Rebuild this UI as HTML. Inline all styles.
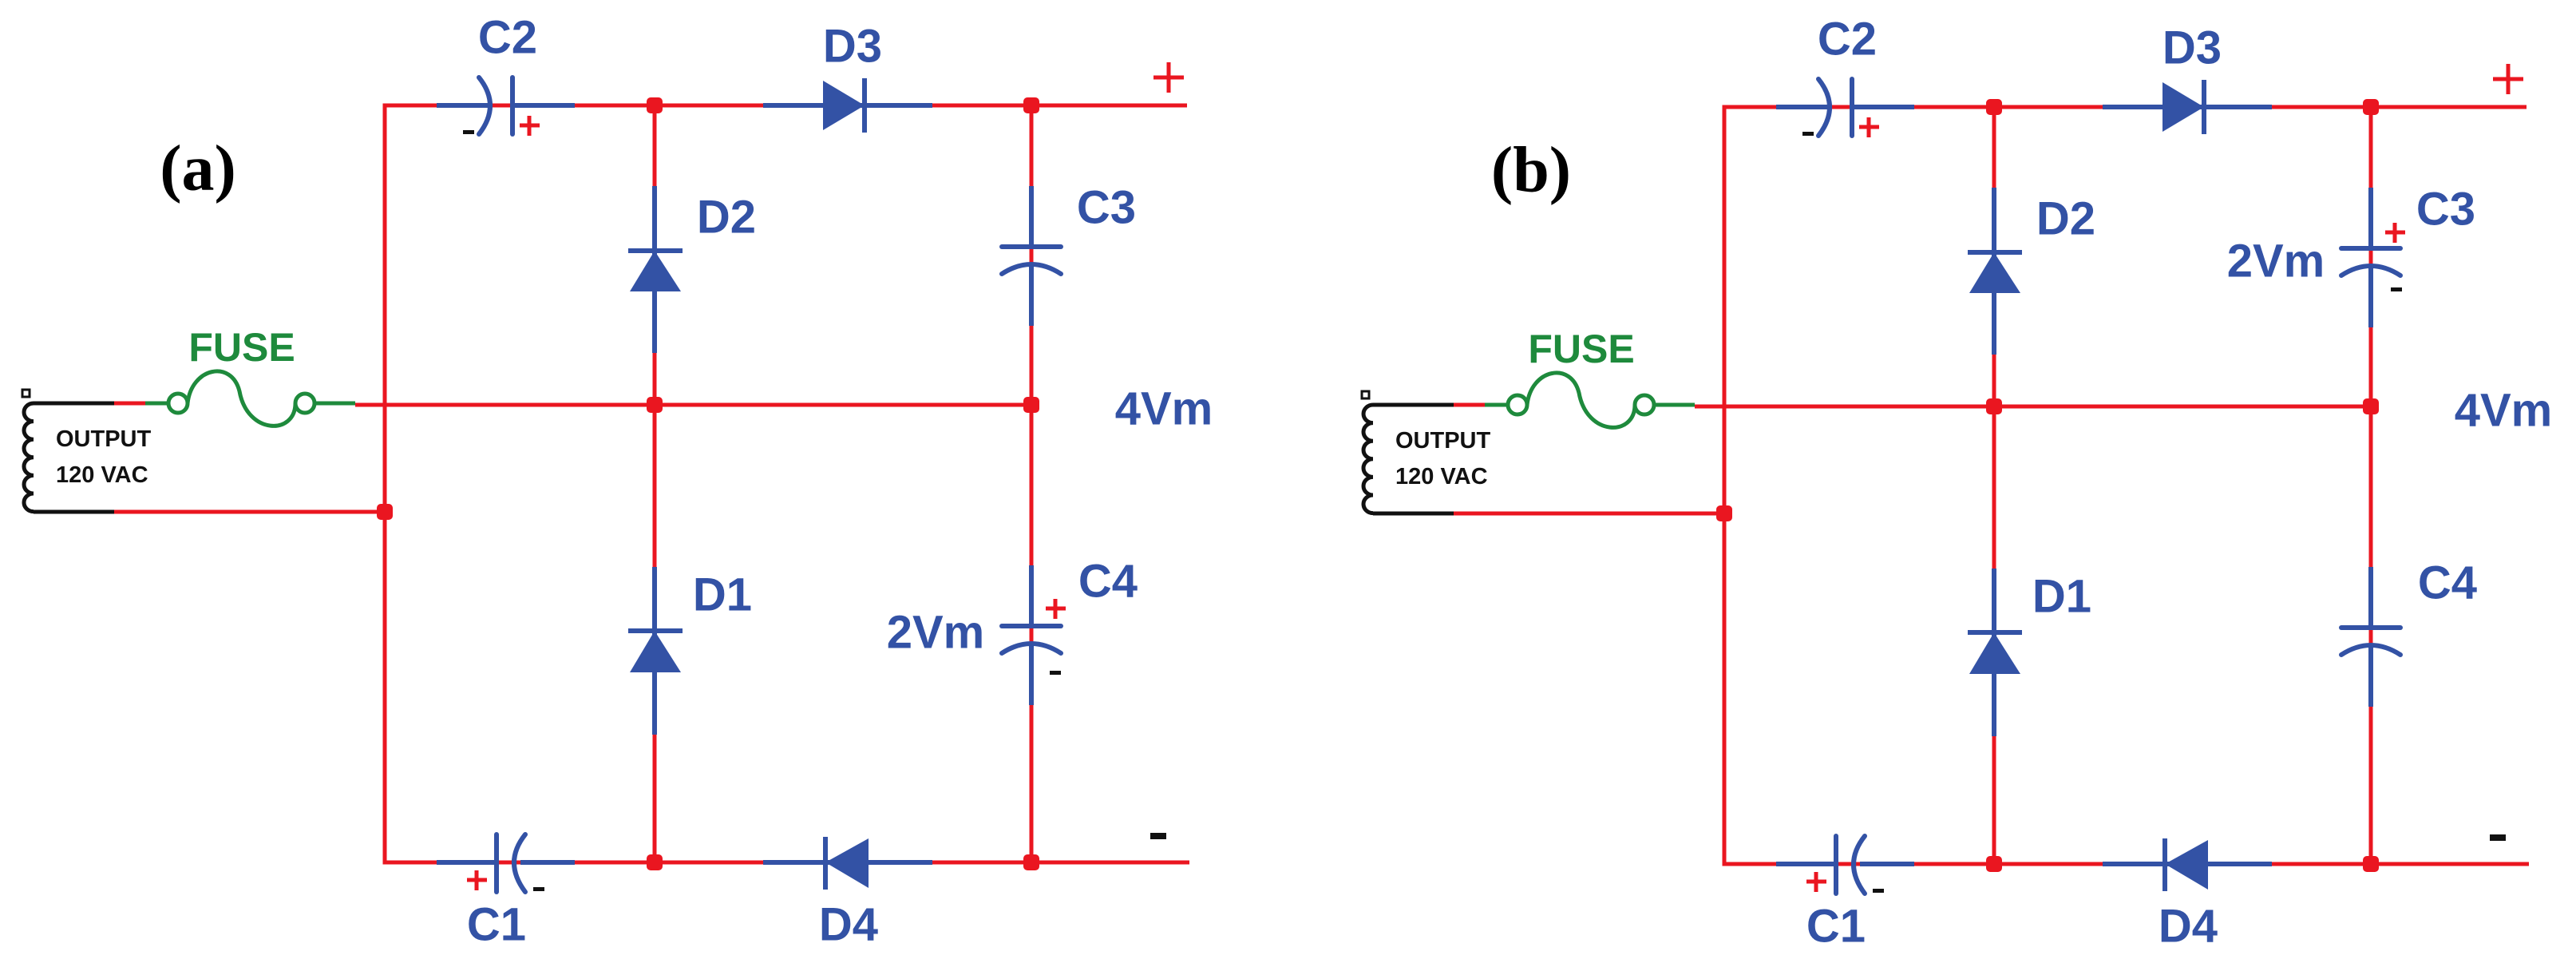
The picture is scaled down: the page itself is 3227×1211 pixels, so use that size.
<!DOCTYPE html>
<html><head><meta charset="utf-8"><style>
html,body{margin:0;padding:0;background:#fff;}
svg{display:block}
.l{font-family:"Liberation Sans",sans-serif;font-weight:bold;fill:#3352a5;font-size:58px;text-anchor:middle;dominant-baseline:central}
.p{font-family:"Liberation Serif",serif;font-weight:bold;fill:#000;font-size:82px;text-anchor:middle;dominant-baseline:central}
.r{stroke:#ea1620;stroke-width:5;fill:none}
.b{stroke:#3352a5;stroke-width:6;fill:none}
.bf{fill:#3352a5}
.g{stroke:#1e8a3c;stroke-width:5;fill:none}
.k{stroke:#111;stroke-width:5;fill:none}
</style></head><body>
<svg width="3227" height="1211" viewBox="0 0 3227 1211" xmlns="http://www.w3.org/2000/svg">
<defs>
<g id="base">
  <!-- red wiring -->
  <path class="r" d="M1487 132 H482 V1080 H1490"/>
  <path class="r" d="M445 507 H1292"/>
  <path class="r" d="M143 641 H482"/>
  <path class="r" d="M143 505 H182"/>
  <path class="r" d="M820 132 V1080"/>
  <path class="r" d="M1292 132 V1080"/>
  <!-- C2 -->
  <path class="b" d="M547 132 H612 M642 132 H720"/>
  <path class="b" d="M600 97 Q628 132 600 168" stroke-width="8" stroke-linecap="round"/>
  <path class="b" d="M642 97 V168" stroke-width="8" stroke-linecap="round"/>
  <rect x="580" y="163" width="14" height="5" fill="#111"/>
  <path class="r" d="M651 157 H676 M663 145 V170" stroke-width="5"/>
  <!-- D3 -->
  <path class="b" d="M956 132 H1168"/>
  <polygon class="bf" points="1031,101 1083,132 1031,163"/>
  <path class="b" d="M1083 98 V166"/>
  <!-- C1 -->
  <path class="b" d="M547 1080 H622 M652 1080 H720"/>
  <path class="b" d="M622 1045 V1117" stroke-width="8" stroke-linecap="round"/>
  <path class="b" d="M658 1045 Q630 1080 658 1117" stroke-width="8" stroke-linecap="round"/>
  <path class="r" d="M585 1102 H610 M597 1090 V1115"/>
  <rect x="668" y="1111" width="14" height="5" fill="#111"/>
  <!-- D4 -->
  <path class="b" d="M956 1080 H1168"/>
  <polygon class="bf" points="1088,1050 1034,1080 1088,1112"/>
  <path class="b" d="M1034 1048 V1114"/>
  <!-- D2 -->
  <path class="b" d="M820 233 V442"/>
  <polygon class="bf" points="820,314 789,365 853,365"/>
  <path class="b" d="M787 314 H855"/>
  <!-- D1 -->
  <path class="b" d="M820 710 V920"/>
  <polygon class="bf" points="820,790 789,842 853,842"/>
  <path class="b" d="M787 790 H855"/>
  <!-- junction dots -->
  <g fill="#ea1620">
    <rect x="810" y="122" width="20" height="20" rx="5"/>
    <rect x="1282" y="122" width="20" height="20" rx="5"/>
    <rect x="810" y="497" width="20" height="20" rx="5"/>
    <rect x="1282" y="497" width="20" height="20" rx="5"/>
    <rect x="472" y="631" width="20" height="20" rx="5"/>
    <rect x="810" y="1070" width="20" height="20" rx="5"/>
    <rect x="1282" y="1070" width="20" height="20" rx="5"/>
  </g>
  <!-- transformer -->
  <rect x="28" y="488" width="9" height="9" fill="none" stroke="#111" stroke-width="3"/>
  <path class="k" d="M143 505 H42 M143 641 H42"/>
  <path class="k" d="M42 505 a12 11.3 0 0 0 0 22.6 a12 11.3 0 0 0 0 22.6 a12 11.3 0 0 0 0 22.6 a12 11.3 0 0 0 0 22.6 a12 11.3 0 0 0 0 22.6 a12 11.3 0 0 0 0 22.6" stroke-width="4"/>
  <text x="70" y="550" font-family="Liberation Sans,sans-serif" font-weight="bold" font-size="29" fill="#111" dominant-baseline="central">OUTPUT</text>
  <text x="70" y="595" font-family="Liberation Sans,sans-serif" font-weight="bold" font-size="29" fill="#111" dominant-baseline="central">120 VAC</text>
  <!-- fuse -->
  <path class="g" d="M182 505 H211 M235 505 C240 460 290 450 300 490 C310 545 370 545 370 505 M394 505 H445"/>
  <circle class="g" cx="223" cy="505" r="12"/>
  <circle class="g" cx="382" cy="505" r="12"/>
  <text x="303" y="435" font-family="Liberation Sans,sans-serif" font-weight="bold" font-size="50" fill="#1e8a3c" text-anchor="middle" dominant-baseline="central">FUSE</text>
  <!-- labels -->
  <text class="l" x="636" y="47">C2</text>
  <text class="l" x="1068" y="58">D3</text>
  <text class="l" x="910" y="272">D2</text>
  <text class="l" x="1386" y="260">C3</text>
  <text class="l" x="1458" y="512">4Vm</text>
  <text class="l" x="905" y="745">D1</text>
  <text class="l" x="1388" y="728">C4</text>
  <text class="l" x="622" y="1158">C1</text>
  <text class="l" x="1063" y="1158">D4</text>
  <path class="r" d="M1445 97 H1483 M1464 78 V116" stroke-width="7"/>
  <rect x="1441" y="1043" width="20" height="8" fill="#111"/>
</g>
<g id="cap">
  <path class="b" d="M0 0 V76 M0 100 V175"/>
  <path class="b" d="M-37 76 H37" stroke-width="8" stroke-linecap="round"/>
  <path class="b" d="M-37 110 Q0 86 37 110" stroke-width="8" stroke-linecap="round"/>
</g>
</defs>

<!-- panel a -->
<use href="#base"/>
<use href="#cap" x="1292" y="233"/>
<use href="#cap" x="1292" y="708"/>
<text class="p" x="248" y="210">(a)</text>
<text class="l" x="1172" y="792">2Vm</text>
<path class="r" d="M1310 762 H1335 M1322 750 V775"/>
<rect x="1315" y="840" width="14" height="5" fill="#111"/>

<!-- panel b -->
<g transform="translate(1678,2)">
<use href="#base"/>
<use href="#cap" x="1292" y="233"/>
<use href="#cap" x="1292" y="708"/>
<text class="p" x="240" y="210">(b)</text>
<text class="l" x="1173" y="325">2Vm</text>
<path class="r" d="M1310 289 H1335 M1322 277 V302"/>
<rect x="1317" y="358" width="14" height="5" fill="#111"/>
</g>
</svg>
</body></html>
